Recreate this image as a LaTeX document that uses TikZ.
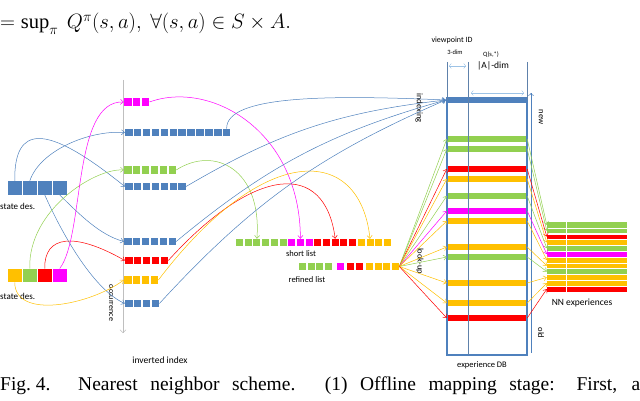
\documentclass[tikz,border=0pt]{standalone}
\usepackage{fontspec}
\setmainfont{Liberation Serif}
\newfontfamily\lblfont{Carlito}
\usetikzlibrary{arrows.meta}

\definecolor{dbblue}{HTML}{4F81BD}
\definecolor{lgreen}{HTML}{92D050}
\definecolor{lred}{HTML}{FF0000}
\definecolor{lorange}{HTML}{FFC000}
\definecolor{lmagenta}{HTML}{FF00FF}
\definecolor{lblue}{HTML}{9DC3E6}

\tikzset{
  cell/.style = {inner sep = 0, minimum size = 7.5pt},
  bigcell/.style = {inner sep = 0, minimum size = 13.5pt},
  bar/.style = {inner sep = 0, minimum width = 80pt, minimum height = 5.5pt},
  stripe/.style = {inner sep = 0, minimum width = 80pt, minimum height = 5.3pt},
  link/.style = {-{Straight Barb[length = 3pt, width = 5pt]}, line width = 0.5pt},
  lbl/.style = {font = \lblfont\fontsize{#1}{#1}\selectfont, inner sep = 0},
  lbl/.default = 9
}

\begin{document}
\begin{tikzpicture}[x = 1pt, y = -1pt]
  \useasboundingbox (0, 0) rectangle (640, 401);

  % text of the page
  \node[anchor = base west, inner sep = 0, font = \fontsize{20.5}{22}\selectfont]
  (eqline) at (0, 29) {$= \sup_\pi\ Q^\pi(s,a),\ \forall(s,a)\in S\times A.$};
  \node[anchor = base west, inner sep = 0, font = \fontsize{19.5}{21}\selectfont]
  (figno) at (0, 390) {Fig.~4.};
  \node[anchor = base west, inner sep = 0, font = \fontsize{19.5}{21}\selectfont]
  (capt) at (78, 390) {\makebox[562pt][s]{Nearest neighbor scheme. (1) Offline mapping stage: First, a}};

  % state descriptors
  \foreach \col [count = \i] in {dbblue, dbblue, dbblue, dbblue}{
    \node[bigcell, fill = \col] (sd1-\i) at ({14.75 + 15*(\i-1)}, 188) {};
  }
  \foreach \col [count = \i] in {lorange, lgreen, lred, lmagenta}{
    \node[bigcell, fill = \col] (sd2-\i) at ({14.75 + 15*(\i-1)}, 275.5) {};
  }
  \node[lbl, anchor = west] (sd1lbl) at (0, 206) {state des.};
  \node[lbl, anchor = west] (sd2lbl) at (0, 296) {state des.};

  % inverted index
  \coordinate (axtop) at (123, 80);
  \coordinate (axbot) at (123, 333);
  \draw[-{Straight Barb[length = 3pt, width = 6pt]}, black!25] (axtop) -- (axbot);
  \node[lbl = 8, rotate = -90] (axlbl) at (111, 303) {occurrence};
  \foreach \name/\col/\n/\xa/\y in {ia/lmagenta/3/124/102, ib/dbblue/12/125/132.5,
    ic/lgreen/6/124/170, id/dbblue/7/125/186.5, ie/dbblue/6/124/241.5,
    if/lred/5/125/260.5, ig/lorange/4/124/280, ih/dbblue/4/125/303.5}{
    \foreach \i in {1,...,\n}{
      \node[cell, fill = \col] (\name-\i) at ({\xa + 3.75 + 8.9*(\i-1)}, \y) {};
    }
  }
  \node[lbl = 9.5] (invlbl) at (160, 360) {inverted index};

  % short list and refined list
  \foreach \col [count = \i] in {lgreen, lgreen, lgreen, lgreen, lgreen, lgreen,
    lmagenta, lmagenta, lmagenta, lred, lred, lred, lred, lred,
    lorange, lorange, lorange, lorange}{
    \node[cell, minimum size = 7pt, fill = \col] (sl-\i) at ({239.5 + 8.7*(\i-1)}, 242.5) {};
  }
  \foreach \x/\col [count = \i] in {302.5/lgreen, 311.2/lgreen, 319.9/lgreen, 328.6/lgreen,
    340/lmagenta, 350.5/lred, 359.2/lred,
    369.5/lorange, 378.2/lorange, 386.9/lorange, 395.6/lorange}{
    \node[cell, minimum size = 7pt, fill = \col] (rl-\i) at (\x, 266.5) {};
  }
  \node[lbl = 8.5] (sllbl) at (301, 254) {short list};
  \node[lbl = 8.5] (rllbl) at (307, 280) {refined list};

  % experience DB
  \foreach \y/\col [count = \i] in {139/lgreen, 149/lgreen, 169/lred, 179/lorange,
    196/lgreen, 211/lmagenta, 221/lorange, 247/lorange, 257/lgreen,
    283/lorange, 303/lorange, 318/lred}{
    \node[bar, fill = \col] (bar-\i) at (487, \y) {};
    \node[stripe, fill = \col] (nn-\i) at (587, {222 + 5.83*(\i-0.5)}) {};
  }
  \node[inner sep = 0, minimum width = 82pt, minimum height = 6pt, fill = dbblue]
  (dbtop) at (487, 100) {};
  \draw[dbblue, line width = 1.5pt] (447, 100) -- (447, 355) -- (527, 355) -- (527, 100);
  \draw[dbblue!70!gray, line width = 0.6pt] (447, 62) -- (447, 100)
  (468, 62) -- (468, 355) (527, 62) -- (527, 100);
  \draw[white, line width = 0.5pt] (566, 222) -- (566, 292);
  \foreach \i in {1,...,11}{
    \draw[white, line width = 0.3pt] (547, {222 + 5.83*\i}) -- (627, {222 + 5.83*\i});
  }
  \draw[lblue, <->] (449, 66) -- (466, 66);
  \draw[lblue, <->] (471, 93) -- (524, 93);
  \coordinate (agetop) at (531, 93);
  \coordinate (agebot) at (531, 353);
  \draw[dbblue, line width = 0.5pt, <-] (agetop) -- (agebot);

  \node[lbl = 8] (vplbl) at (452, 40) {viewpoint ID};
  \node[lbl = 6.5] (vpdim) at (455, 52) {3-dim};
  \node[lbl = 6.5] (qlbl) at (491, 55) {Q(s,*)};
  \node[lbl = 9.5] (qdim) at (493, 66) {|A|-dim};
  \node[lbl = 8.5, rotate = -90] (newlbl) at (541, 117) {new};
  \node[lbl = 8.5, rotate = -90] (oldlbl) at (541, 333) {old};
  \node[lbl = 8.5, rotate = -90] (idxlbl) at (419, 108) {indexing};
  \node[lbl = 8.5, rotate = -90] (lulbl) at (420, 261) {look-up};
  \node[lbl = 8.5] (dblbl) at (482, 365) {experience DB};
  \node[lbl = 9.5] (nnlbl) at (582, 303) {NN experiences};

  % state descriptors to inverted index
  \draw[link, dbblue] (sd1-1.north) .. controls (14, 125) and (45, 122) .. (id-1.west);
  \draw[link, dbblue] (sd1-2.north) .. controls (40, 150) and (90, 130) .. (ib-1.west);
  \draw[link, dbblue] (sd1-4.south) .. controls (80, 215) and (100, 235) .. (ie-1.west);
  \draw[link, dbblue] (sd1-3.south) .. controls (65, 240) and (95, 290) .. (ih-1.west);
  \draw[link, lorange] (sd2-1.south) .. controls (15, 320) and (90, 305) .. (ig-1.west);
  \draw[link, lgreen] (sd2-2.north) .. controls (28, 210) and (95, 168) .. (ic-1.west);
  \draw[link, lred] (sd2-3.north) .. controls (44, 235) and (75, 232) .. (if-1.west);
  \draw[link, lmagenta] (sd2-4.north) .. controls (85, 235) and (72, 100) .. (ia-1.west);

  % inverted index to short list and DB
  \draw[link, lmagenta] (ia-3.east) .. controls (210, 80) and (300, 130) .. (sl-8.north);
  \draw[link, lgreen] (ic-6.east) .. controls (215, 145) and (262, 170) .. (sl-3.north);
  \draw[link, lred] (if-5.east) .. controls (255, 165) and (325, 160) .. (sl-12.north);
  \draw[link, lorange] (ig-4.east) .. controls (265, 140) and (360, 145) .. (sl-16.north);
  \draw[link, dbblue] (ib-12.north) .. controls (226, 95) and (330, 95) .. (dbtop.west);
  \foreach \row in {id-7, ie-6, ih-4}{
    \draw[link, dbblue] (\row.east) to[bend left = 12] (dbtop.west);
  }

  % look-up and NN experiences
  \foreach \col [count = \i] in {lgreen, lgreen, lred, lorange, lgreen, lmagenta,
    lorange, lorange, lgreen, lorange, lorange, lred}{
    \draw[link, \col] (rl-11.east) -- (bar-\i.west);
    \draw[link, \col] (bar-\i.east) -- (nn-\i.west);
  }
\end{tikzpicture}
\end{document}
